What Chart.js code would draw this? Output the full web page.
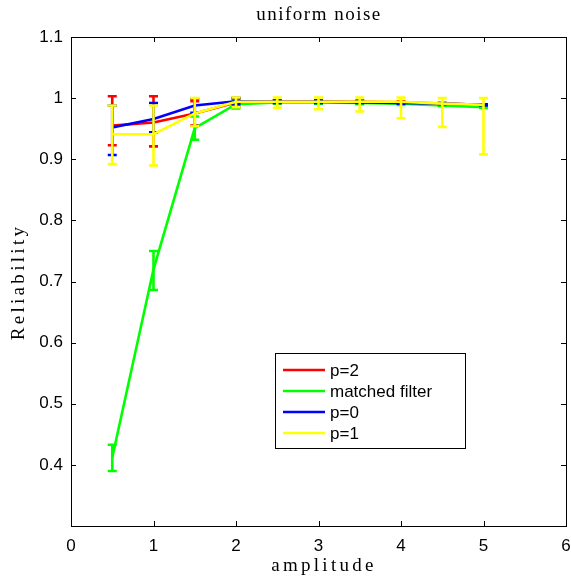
<!DOCTYPE html>
<html>
<head>
<meta charset="utf-8">
<script src="https://cdn.jsdelivr.net/npm/chart.js@4/dist/chart.umd.min.js"></script>
<style>
html,body{margin:0;padding:0;background:#fff;}
#wrap{width:571px;height:580px;}
</style>
</head>
<body>
<div id="wrap"><canvas id="c" width="571" height="580"></canvas></div>
<script>
const amplitude = [0.5, 1, 1.5, 2, 2.5, 3, 3.5, 4, 4.5, 5];
const seriesLabels = ['p=2', 'matched filter', 'p=0', 'p=1'];
const seriesColors = ['#ff0000', '#00ff00', '#0000ff', '#ffff00'];

const p2Mean = [0.955, 0.960, 0.975, 0.993, 0.994, 0.994, 0.994, 0.993, 0.991, 0.989];
const p2Low  = [0.923, 0.921, 0.955, 0.986, 0.992, 0.992, 0.992, 0.991, 0.990, 0.988];
const p2High = [1.003, 1.003, 0.995, 1.000, 0.996, 0.996, 0.996, 0.995, 0.992, 0.990];

const mfMean = [0.412, 0.720, 0.951, 0.990, 0.993, 0.993, 0.992, 0.991, 0.988, 0.985];
const mfLow  = [0.390, 0.686, 0.932, 0.983, 0.991, 0.991, 0.990, 0.989, 0.987, 0.984];
const mfHigh = [0.433, 0.750, 0.970, 0.997, 0.995, 0.995, 0.994, 0.993, 0.989, 0.986];

const p0Mean = [0.952, 0.966, 0.988, 0.995, 0.994, 0.994, 0.993, 0.992, 0.991, 0.989];
const p0Low  = [0.907, 0.944, 0.976, 0.990, 0.992, 0.992, 0.992, 0.991, 0.990, 0.988];
const p0High = [0.988, 0.992, 0.999, 1.000, 0.996, 0.996, 0.994, 0.993, 0.992, 0.990];

const p1Mean = [0.941, 0.941, 0.975, 0.994, 0.994, 0.994, 0.994, 0.994, 0.991, 0.989];
const p1Low  = [0.892, 0.890, 0.954, 0.985, 0.984, 0.982, 0.978, 0.967, 0.953, 0.908];
const p1High = [0.988, 0.988, 1.000, 1.001, 1.001, 1.001, 1.001, 1.001, 1.000, 1.000];

const xTicks = [0, 1, 2, 3, 4, 5, 6];
const yTicks = [0.4, 0.5, 0.6, 0.7, 0.8, 0.9, 1.0, 1.1];

const means = [p2Mean, mfMean, p0Mean, p1Mean];
const lows = [p2Low, mfLow, p0Low, p1Low];
const highs = [p2High, mfHigh, p0High, p1High];

const datasets = means.map((m, k) => ({
  label: seriesLabels[k],
  data: amplitude.map((x, i) => ({x: x, y: m[i]})),
  borderColor: seriesColors[k],
  backgroundColor: seriesColors[k],
  borderWidth: 2.6,
  pointRadius: 0,
  tension: 0,
  fill: false,
  order: means.length - 1 - k,
  errLow: lows[k],
  errHigh: highs[k]
}));

const errorBars = {
  id: 'errorBars',
  afterDatasetDraw(chart, args) {
    const ds = chart.data.datasets[args.index];
    const xs = chart.scales.x, ys = chart.scales.y;
    const ctx = chart.ctx;
    ctx.save();
    ctx.strokeStyle = ds.borderColor;
    ctx.lineWidth = 2.6;
    ctx.lineCap = 'butt';
    amplitude.forEach((x, i) => {
      const px = xs.getPixelForValue(x);
      const yl = ys.getPixelForValue(ds.errLow[i]);
      const yh = ys.getPixelForValue(ds.errHigh[i]);
      ctx.beginPath();
      ctx.moveTo(px, yl); ctx.lineTo(px, yh);
      ctx.moveTo(px - 4.5, yl); ctx.lineTo(px + 4.5, yl);
      ctx.moveTo(px - 4.5, yh); ctx.lineTo(px + 4.5, yh);
      ctx.stroke();
    });
    ctx.restore();
  }
};

const frame = {
  id: 'frame',
  afterDraw(chart) {
    const ctx = chart.ctx, a = chart.chartArea;
    const xs = chart.scales.x, ys = chart.scales.y;
    ctx.save();
    ctx.strokeStyle = '#000';
    ctx.lineWidth = 1;
    ctx.strokeRect(Math.round(a.left) + 0.5, Math.round(a.top) + 0.5,
                   Math.round(a.right - a.left), Math.round(a.bottom - a.top));
    ctx.beginPath();
    xTicks.forEach(v => {
      const px = Math.round(xs.getPixelForValue(v)) + 0.5;
      ctx.moveTo(px, a.bottom); ctx.lineTo(px, a.bottom - 5);
      ctx.moveTo(px, a.top); ctx.lineTo(px, a.top + 5);
    });
    yTicks.forEach(v => {
      const py = Math.round(ys.getPixelForValue(v)) + 0.5;
      ctx.moveTo(a.left, py); ctx.lineTo(a.left + 5, py);
      ctx.moveTo(a.right, py); ctx.lineTo(a.right - 5, py);
    });
    ctx.stroke();

    // title and axis labels
    ctx.fillStyle = '#000';
    ctx.textAlign = 'center';
    ctx.textBaseline = 'middle';
    ctx.font = '19px "Liberation Serif", serif';
    try { ctx.letterSpacing = '1.5px'; } catch (e) {}
    ctx.fillText('uniform noise', 319, 15);
    try { ctx.letterSpacing = '3.3px'; } catch (e) {}
    ctx.fillText('amplitude', 324, 566);
    ctx.save();
    ctx.translate(19, 282);
    ctx.rotate(-Math.PI / 2);
    ctx.fillText('Reliability', 0, 0);
    ctx.restore();
    try { ctx.letterSpacing = '0px'; } catch (e) {}

    // legend
    const lx = 275, ly = 353, lw = 190, lh = 95;
    ctx.fillStyle = '#fff';
    ctx.fillRect(lx, ly, lw, lh);
    ctx.strokeStyle = '#000';
    ctx.lineWidth = 1;
    ctx.strokeRect(lx + 0.5, ly + 0.5, lw, lh);
    ctx.font = '17px "Liberation Sans", Arial, sans-serif';
    ctx.textAlign = 'left';
    ctx.textBaseline = 'middle';
    const rows = [370, 391, 412, 433];
    chart.data.datasets.forEach((ds, k) => {
      ctx.strokeStyle = ds.borderColor;
      ctx.lineWidth = 2.6;
      ctx.beginPath();
      ctx.moveTo(283, rows[k]); ctx.lineTo(325, rows[k]);
      ctx.stroke();
      ctx.fillStyle = '#000';
      ctx.fillText(ds.label, 330, rows[k] + 1);
    });
    ctx.restore();
  }
};

new Chart(document.getElementById('c'), {
  type: 'line',
  data: { datasets: datasets },
  options: {
    responsive: false,
    animation: false,
    devicePixelRatio: 1,
    layout: { padding: { top: 37, right: 5, left: 0, bottom: 0 } },
    plugins: { legend: { display: false }, title: { display: false }, tooltip: { enabled: false } },
    scales: {
      x: {
        type: 'linear', min: 0, max: 6,
        afterBuildTicks: s => { s.ticks = xTicks.map(v => ({value: v})); },
        ticks: { color: '#000', padding: 10, font: { size: 17, family: '"Liberation Sans", Arial, sans-serif' },
                 maxRotation: 0, callback: v => String(v) },
        grid: { display: false, drawTicks: false },
        border: { display: false },
        afterFit: s => { s.height = 54; s.paddingLeft = 0; s.paddingRight = 0; }
      },
      y: {
        type: 'linear', min: 0.3, max: 1.1,
        afterBuildTicks: s => { s.ticks = yTicks.map(v => ({value: v})); },
        ticks: { color: '#000', padding: 8, font: { size: 17, family: '"Liberation Sans", Arial, sans-serif' },
                 callback: v => String(Math.round(v * 10) / 10) },
        grid: { display: false, drawTicks: false },
        border: { display: false },
        afterFit: s => { s.width = 71; s.paddingTop = 0; s.paddingBottom = 0; }
      }
    }
  },
  plugins: [errorBars, frame]
});
</script>
</body>
</html>
